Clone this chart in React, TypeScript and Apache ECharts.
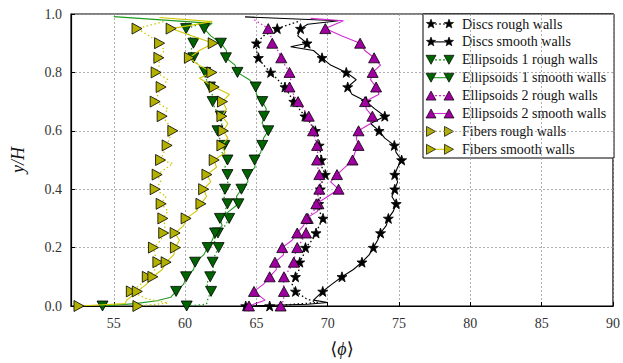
import React, { useEffect, useRef } from "react";
import * as echarts from "echarts";

// ---------- data ----------
const Y_MARK = [0, 0.05, 0.1, 0.15, 0.2, 0.25, 0.3, 0.35, 0.4, 0.45, 0.5, 0.55, 0.6, 0.65, 0.7, 0.75, 0.8, 0.85, 0.9, 0.95];

const DISCS_ROUGH_MARK = [65.93, 67.74, 67.74, 68.04, 68.44, 69.18, 69.67, 69.37, 69.48, 69.83, 69.55, 69.4, 69.13, 68.4, 67.62, 67.0, 66.0, 65.14, 65.0, 66.46];
const DISCS_SMOOTH_MARK = [64.25, 69.65, 71.0, 72.4, 73.2, 73.7, 74.25, 74.8, 74.7, 74.7, 75.18, 74.67, 73.6, 74.0, 72.7, 71.4, 71.3, 69.6, 68.55, 68.09];
const ELL1_ROUGH_MARK = [60.11, 61.82, 61.76, 61.93, 62.35, 62.3, 63.09, 62.97, 62.8, 62.97, 62.97, 62.75, 62.27, 62.5, 61.93, 61.74, 61.41, 60.58, 60.58, 60.07];
const ELL1_SMOOTH_MARK = [54.21, 59.37, 60.07, 60.7, 61.58, 62.1, 62.44, 63.74, 63.95, 64.37, 64.87, 65.41, 65.83, 65.53, 65.41, 64.95, 63.67, 62.86, 62.51, 61.34];
const ELL2_ROUGH_MARK = [66.7, 66.93, 66.93, 67.62, 67.86, 68.48, 68.6, 69.35, 69.41, 69.41, 69.25, 69.25, 68.97, 68.67, 67.92, 67.32, 67.32, 66.74, 66.11, 65.83];
const ELL2_SMOOTH_MARK = [64.48, 64.83, 65.93, 66.3, 66.81, 67.86, 68.5, 69.2, 70.76, 70.65, 71.74, 72.16, 72.16, 73.13, 72.62, 73.39, 73.15, 73.25, 72.27, 69.83];
const FIB_ROUGH_MARK = [56.69, 56.23, 57.35, 58.09, 57.78, 58.5, 58.44, 58.32, 57.9, 58.04, 58.28, 58.74, 59.14, 58.39, 57.9, 58.32, 57.97, 58.16, 58.21, 56.63];
const FIB_SMOOTH_MARK = [52.56, 56.65, 57.74, 58.67, 59.32, 59.3, 60.07, 61.11, 61.3, 61.53, 62.04, 62.58, 62.67, 62.58, 62.62, 62.04, 61.88, 60.3, 61.97, 59.02];

const DISCS_ROUGH_LINE = [[65.93,0],[69.3,0.012],[68.5,0.025],[67.74,0.05],[67.5,0.075],[67.74,0.1],[68.0,0.125],[68.04,0.15],[68.3,0.175],[68.44,0.2],[68.9,0.225],[69.18,0.25],[69.4,0.275],[69.67,0.3],[69.4,0.325],[69.37,0.35],[69.5,0.375],[69.48,0.4],[69.6,0.425],[69.83,0.45],[69.6,0.475],[69.55,0.5],[69.5,0.525],[69.4,0.55],[69.3,0.575],[69.13,0.6],[68.8,0.625],[68.4,0.65],[68.0,0.675],[67.62,0.7],[67.3,0.725],[67.0,0.75],[66.5,0.775],[66.0,0.8],[65.5,0.825],[65.14,0.85],[65.0,0.875],[65.0,0.9],[65.5,0.925],[66.46,0.95],[68.09,0.977]];
const DISCS_SMOOTH_LINE = [[64.25,0],[68.6,0.006],[70.0,0.012],[69.0,0.02],[69.65,0.05],[70.3,0.075],[71.0,0.1],[71.8,0.125],[72.4,0.15],[72.9,0.175],[73.2,0.2],[73.5,0.225],[73.7,0.25],[74.1,0.275],[74.25,0.3],[74.6,0.325],[74.8,0.35],[74.5,0.375],[74.7,0.4],[74.9,0.425],[74.7,0.45],[74.9,0.475],[75.18,0.5],[74.8,0.525],[74.67,0.55],[74.0,0.575],[73.6,0.6],[73.0,0.625],[74.0,0.65],[73.3,0.675],[72.7,0.7],[71.7,0.725],[71.4,0.75],[72.0,0.775],[71.3,0.8],[70.2,0.825],[69.6,0.85],[69.0,0.875],[67.4,0.888],[68.55,0.9],[67.9,0.925],[68.09,0.95],[68.6,0.965],[70.76,0.977],[64.2,0.99]];
const ELL1_ROUGH_LINE = [[60.11,0],[61.5,0.006],[61.6,0.025],[61.82,0.05],[61.5,0.075],[61.76,0.1],[62.0,0.125],[61.93,0.15],[62.1,0.175],[62.35,0.2],[62.0,0.225],[62.3,0.25],[62.8,0.275],[63.09,0.3],[62.8,0.325],[62.97,0.35],[62.7,0.375],[62.8,0.4],[63.0,0.425],[62.97,0.45],[62.8,0.475],[62.97,0.5],[62.6,0.525],[62.75,0.55],[62.4,0.575],[62.27,0.6],[62.6,0.625],[62.5,0.65],[62.1,0.675],[61.93,0.7],[61.9,0.725],[61.74,0.75],[61.5,0.775],[61.41,0.8],[60.9,0.825],[60.58,0.85],[60.4,0.875],[60.58,0.9],[60.3,0.925],[60.07,0.95],[61.3,0.97]];
const ELL1_SMOOTH_LINE = [[54.21,0],[56.5,0.008],[58.0,0.018],[59.0,0.03],[59.37,0.05],[59.9,0.075],[60.07,0.1],[60.6,0.125],[60.7,0.15],[61.3,0.175],[61.58,0.2],[61.9,0.225],[62.1,0.25],[62.6,0.275],[62.44,0.3],[63.1,0.325],[63.74,0.35],[63.6,0.375],[63.95,0.4],[64.4,0.425],[64.37,0.45],[64.9,0.475],[64.87,0.5],[65.3,0.525],[65.41,0.55],[65.5,0.575],[65.83,0.6],[65.4,0.625],[65.53,0.65],[65.7,0.675],[65.41,0.7],[65.0,0.725],[64.95,0.75],[64.5,0.775],[63.67,0.8],[63.5,0.825],[62.86,0.85],[62.9,0.875],[62.51,0.9],[61.8,0.925],[61.34,0.95],[61.9,0.968],[55.0,0.991]];
const ELL2_ROUGH_LINE = [[66.7,0],[66.9,0.02],[66.93,0.05],[66.9,0.075],[66.93,0.1],[67.3,0.125],[67.62,0.15],[67.7,0.175],[67.86,0.2],[68.2,0.225],[68.48,0.25],[68.5,0.275],[68.6,0.3],[69.0,0.325],[69.35,0.35],[69.3,0.375],[69.41,0.4],[69.5,0.425],[69.41,0.45],[69.3,0.475],[69.25,0.5],[69.3,0.525],[69.25,0.55],[69.1,0.575],[68.97,0.6],[68.8,0.625],[68.67,0.65],[68.3,0.675],[67.92,0.7],[67.6,0.725],[67.32,0.75],[67.4,0.775],[67.32,0.8],[67.0,0.825],[66.74,0.85],[66.5,0.875],[66.11,0.9],[66.0,0.925],[65.83,0.95],[64.7,0.985]];
const ELL2_SMOOTH_LINE = [[64.48,0],[65.6,0.02],[64.83,0.05],[65.5,0.075],[65.93,0.1],[66.4,0.125],[66.3,0.15],[66.9,0.175],[66.81,0.2],[67.5,0.225],[67.86,0.25],[68.3,0.275],[68.5,0.3],[69.3,0.325],[69.2,0.35],[70.0,0.375],[70.76,0.4],[70.2,0.425],[70.65,0.45],[71.2,0.475],[71.74,0.5],[71.9,0.525],[72.16,0.55],[72.0,0.575],[72.16,0.6],[73.0,0.625],[73.13,0.65],[72.7,0.675],[72.62,0.7],[73.6,0.725],[73.39,0.75],[73.0,0.775],[73.15,0.8],[73.7,0.825],[73.25,0.85],[72.6,0.875],[72.27,0.9],[71.0,0.925],[69.83,0.95],[71.1,0.977],[68.8,0.985]];
const FIB_ROUGH_LINE = [[56.69,0],[58.8,0.01],[57.3,0.025],[56.23,0.05],[56.9,0.075],[57.35,0.1],[57.9,0.125],[58.09,0.15],[57.9,0.175],[57.78,0.2],[58.3,0.225],[58.5,0.25],[58.6,0.275],[58.44,0.3],[58.8,0.325],[58.32,0.35],[58.67,0.375],[57.9,0.4],[58.3,0.425],[58.04,0.45],[59.14,0.488],[58.28,0.5],[58.5,0.525],[58.74,0.55],[58.9,0.575],[59.14,0.6],[58.8,0.625],[58.39,0.65],[58.8,0.675],[57.9,0.7],[58.1,0.725],[58.32,0.75],[58.8,0.775],[57.97,0.8],[58.2,0.825],[58.16,0.85],[58.55,0.875],[58.21,0.9],[57.5,0.925],[56.63,0.95],[58.6,0.975]];
const FIB_SMOOTH_LINE = [[52.56,0],[55.8,0.008],[55.9,0.02],[56.3,0.035],[56.65,0.05],[57.3,0.075],[57.74,0.1],[58.4,0.125],[58.67,0.15],[59.2,0.175],[59.32,0.2],[59.6,0.225],[59.3,0.25],[59.9,0.275],[60.07,0.3],[60.8,0.325],[61.11,0.35],[61.5,0.375],[61.3,0.4],[61.8,0.425],[61.53,0.45],[62.2,0.475],[62.04,0.5],[62.8,0.525],[62.58,0.55],[63.0,0.575],[62.67,0.6],[63.0,0.625],[62.58,0.65],[62.9,0.675],[62.62,0.7],[63.1,0.725],[62.04,0.75],[61.0,0.78],[61.88,0.8],[60.8,0.83],[60.3,0.85],[61.0,0.875],[61.97,0.9],[60.5,0.925],[59.02,0.95],[61.9,0.974],[58.2,0.988]];

const LEGEND_NAMES = [
  "Discs rough walls",
  "Discs smooth walls",
  "Ellipsoids 1 rough walls",
  "Ellipsoids 1 smooth walls",
  "Ellipsoids 2 rough walls",
  "Ellipsoids 2 smooth walls",
  "Fibers rough walls",
  "Fibers smooth walls",
];

const X_TICKS = [55, 60, 65, 70, 75, 80, 85, 90];

// ---------- styles ----------
const FONT = "'Liberation Serif', 'DejaVu Serif', serif";
const STAR_PATH =
  "path://M0,-10L2.35,-3.24L9.51,-3.09L3.8,1.24L5.88,8.09L0,4L-5.88,8.09L-3.8,1.24L-9.51,-3.09L-2.35,-3.24Z";

type Kind = "star" | "down" | "up" | "right";
const STYLES: { line: string; fill: string; kind: Kind; dotted: boolean }[] = [
  { line: "#000000", fill: "#000000", kind: "star", dotted: true },
  { line: "#000000", fill: "#000000", kind: "star", dotted: false },
  { line: "#1f9a1f", fill: "#006400", kind: "down", dotted: true },
  { line: "#1f9a1f", fill: "#006400", kind: "down", dotted: false },
  { line: "#d42ad4", fill: "#a000a0", kind: "up", dotted: true },
  { line: "#d42ad4", fill: "#a000a0", kind: "up", dotted: false },
  { line: "#cfc800", fill: "#b4b000", kind: "right", dotted: true },
  { line: "#cfc800", fill: "#b4b000", kind: "right", dotted: false },
];

const LINES = [
  DISCS_ROUGH_LINE, DISCS_SMOOTH_LINE, ELL1_ROUGH_LINE, ELL1_SMOOTH_LINE,
  ELL2_ROUGH_LINE, ELL2_SMOOTH_LINE, FIB_ROUGH_LINE, FIB_SMOOTH_LINE,
];
const MARKS = [
  DISCS_ROUGH_MARK, DISCS_SMOOTH_MARK, ELL1_ROUGH_MARK, ELL1_SMOOTH_MARK,
  ELL2_ROUGH_MARK, ELL2_SMOOTH_MARK, FIB_ROUGH_MARK, FIB_SMOOTH_MARK,
];

function symbolFor(kind: Kind) {
  if (kind === "star") return { symbol: STAR_PATH, symbolSize: 10, symbolRotate: 0 };
  if (kind === "up") return { symbol: "triangle", symbolSize: [11, 10], symbolRotate: 0 };
  if (kind === "down") return { symbol: "triangle", symbolSize: [11, 10], symbolRotate: 180 };
  return { symbol: "triangle", symbolSize: [11, 10], symbolRotate: -90 };
}

function markerPoly(kind: Kind, cx: number, cy: number): number[][] {
  if (kind === "star") {
    const pts: number[][] = [];
    for (let k = 0; k < 10; k++) {
      const r = k % 2 === 0 ? 4.8 : 2.0;
      const a = -Math.PI / 2 + (k * Math.PI) / 5;
      pts.push([cx + r * Math.cos(a), cy + r * Math.sin(a)]);
    }
    return pts;
  }
  if (kind === "up") return [[cx - 5, cy + 4.5], [cx + 5, cy + 4.5], [cx, cy - 4.5]];
  if (kind === "down") return [[cx - 5, cy - 4.5], [cx + 5, cy - 4.5], [cx, cy + 4.5]];
  return [[cx - 4.5, cy - 5], [cx - 4.5, cy + 5], [cx + 4.5, cy]];
}

export default function App() {
  const ref = useRef<HTMLDivElement>(null);
  useEffect(() => {
    if (!ref.current) return;
    const chart = echarts.init(ref.current, undefined, { renderer: "svg" });

    const series: any[] = [];
    STYLES.forEach((st, i) => {
      series.push({
        type: "line",
        name: LEGEND_NAMES[i],
        data: LINES[i],
        showSymbol: false,
        symbol: "none",
        lineStyle: {
          color: st.line,
          width: st.dotted ? 1.3 : 1.1,
          type: st.dotted ? [1.5, 2.5] : "solid",
        },
        z: 2 + i * 0.1,
        silent: true,
      });
      const sym = symbolFor(st.kind);
      series.push({
        type: "scatter",
        name: LEGEND_NAMES[i] + " markers",
        data: MARKS[i].map((v, k) => [v, Y_MARK[k]]),
        ...sym,
        itemStyle: { color: st.fill, borderColor: "#000", borderWidth: 0.8, opacity: 1 },
        z: 2 + i * 0.1 + 0.05,
        silent: true,
      });
    });

    // legend built with graphic elements
    const lx = 423, ly = 14, lw = 191, lh = 144;
    const children: any[] = [
      { type: "rect", shape: { x: lx, y: ly, width: lw, height: lh }, style: { fill: "#fff", stroke: "#000", lineWidth: 1 } },
    ];
    STYLES.forEach((st, i) => {
      const cy = 24 + i * 17.9;
      children.push({
        type: "line",
        shape: { x1: 431, y1: cy, x2: 449, y2: cy },
        style: { stroke: st.line, lineWidth: st.dotted ? 1.2 : 1.1, lineDash: st.dotted ? [2, 2] : null },
      });
      [431, 449].forEach((mx) => {
        children.push({
          type: "polygon",
          shape: { points: markerPoly(st.kind, mx, cy) },
          style: { fill: st.fill, stroke: "#000", lineWidth: 0.7 },
        });
      });
      children.push({
        type: "text",
        x: 462,
        y: cy,
        style: { text: LEGEND_NAMES[i], font: `14px ${FONT}`, fill: "#111", verticalAlign: "middle", textAlign: "left" },
      });
    });

    chart.setOption({
      animation: false,
      backgroundColor: "#fff",
      grid: { left: 71, right: 7, top: 14, bottom: 57, show: true, borderColor: "#000", borderWidth: 1.2, backgroundColor: "transparent" },
      xAxis: {
        type: "value",
        min: 52,
        max: 90,
        splitNumber: 8,
        name: "⟨{i|ϕ}⟩",
        nameLocation: "middle",
        nameGap: 34,
        nameTextStyle: {
          fontFamily: FONT,
          fontSize: 18,
          color: "#111",
          rich: { i: { fontFamily: FONT, fontSize: 18, fontStyle: "italic", color: "#111" } },
        },
        axisLine: { show: true, lineStyle: { color: "#000", width: 1.2 } },
        axisTick: { show: true, inside: true, length: 4, lineStyle: { color: "#000" } },
        splitLine: { show: true, lineStyle: { color: "#9a9a9a", type: [2, 2], width: 0.8 } },
        axisLabel: {
          fontFamily: FONT,
          fontSize: 14,
          color: "#333",
          margin: 10,
          formatter: (v: number) => (X_TICKS.indexOf(v) >= 0 ? String(v) : ""),
        },
      },
      yAxis: {
        type: "value",
        min: 0,
        max: 1,
        interval: 0.2,
        name: "y/H",
        nameLocation: "middle",
        nameGap: 44,
        nameRotate: 90,
        nameTextStyle: { fontFamily: FONT, fontSize: 18, fontStyle: "italic", color: "#111" },
        axisLine: { show: true, lineStyle: { color: "#000", width: 1.2 } },
        axisTick: { show: true, inside: true, length: 4, lineStyle: { color: "#000" } },
        splitLine: { show: true, lineStyle: { color: "#9a9a9a", type: [2, 2], width: 0.8 } },
        axisLabel: {
          fontFamily: FONT,
          fontSize: 14,
          color: "#333",
          margin: 9,
          formatter: (v: number) => v.toFixed(1),
        },
      },
      series,
      graphic: { elements: [{ type: "group", children, z: 100 }] },
    });

    return () => chart.dispose();
  }, []);

  return (
    <div
      ref={ref}
      style={{ position: "fixed", left: 0, top: 0, width: 623, height: 363, background: "#fff" }}
    />
  );
}
